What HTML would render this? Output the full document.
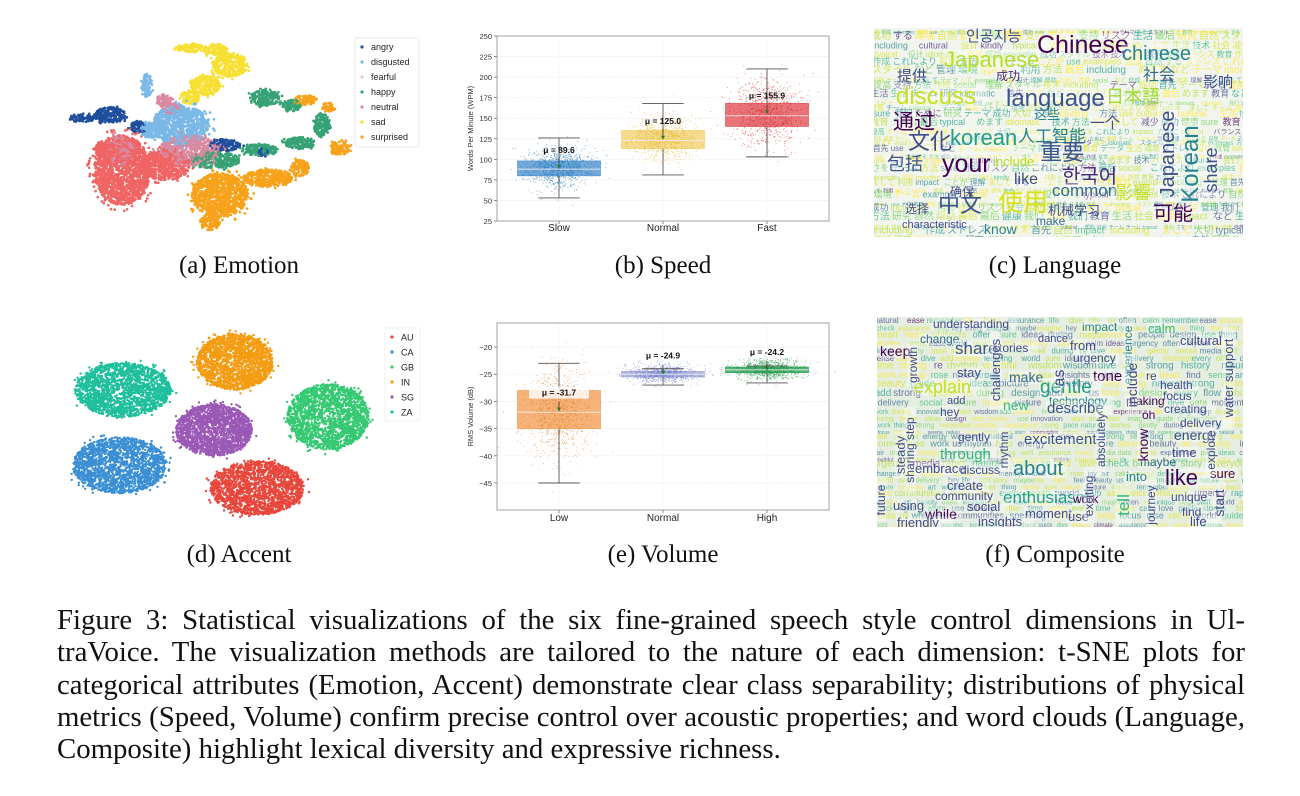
<!DOCTYPE html>
<html><head><meta charset="utf-8">
<style>
html,body{margin:0;padding:0;background:#fff;}
#root{position:relative;width:1300px;height:796px;overflow:hidden;background:#fff;}
svg text{font-family:"Liberation Sans","Noto Sans CJK JP",sans-serif;}
.cap{position:absolute;font-family:"Liberation Serif",serif;font-size:25px;color:#111;transform:translateX(-50%);white-space:nowrap;}
.para{position:absolute;left:57px;width:1188px;font-family:"Liberation Serif",serif;font-size:28.8px;color:#111;line-height:32.3px;}
.ln{display:block;text-align:justify;text-align-last:justify;white-space:nowrap;height:32.3px;}
.ln.last{text-align-last:left;}
</style></head>
<body>
<div id="root">
<svg id="fig" width="1300" height="796" viewBox="0 0 1300 796">
 <defs>
  <clipPath id="clipLang"><rect x="874" y="28" width="369" height="209"/></clipPath>
  <clipPath id="clipComp"><rect x="877" y="317" width="366" height="210"/></clipPath>
 </defs>
 <g id="emotion"></g>
 <g id="accent"></g>
 <g id="speed"></g>
 <g id="volume"></g>
 <g id="lang" clip-path="url(#clipLang)"></g>
 <g id="comp" clip-path="url(#clipComp)"></g>
</svg>
<div class="cap" style="left:239px;top:252px">(a) Emotion</div>
<div class="cap" style="left:663px;top:252px">(b) Speed</div>
<div class="cap" style="left:1055px;top:252px">(c) Language</div>
<div class="cap" style="left:239px;top:541px">(d) Accent</div>
<div class="cap" style="left:663px;top:541px">(e) Volume</div>
<div class="cap" style="left:1055px;top:541px">(f) Composite</div>
<div class="para" style="top:604px">
<span class="ln">Figure 3: Statistical visualizations of the six fine-grained speech style control dimensions in Ul-</span>
<span class="ln">traVoice. The visualization methods are tailored to the nature of each dimension: t-SNE plots for</span>
<span class="ln">categorical attributes (Emotion, Accent) demonstrate clear class separability; distributions of physical</span>
<span class="ln">metrics (Speed, Volume) confirm precise control over acoustic properties; and word clouds (Language,</span>
<span class="ln last">Composite) highlight lexical diversity and expressive richness.</span>
</div>
</div>
<script>
// ---------- data ----------
const emotionLabels = ['angry','disgusted','fearful','happy','neutral','sad','surprised'];
const emotionColors = ['#1f4e9c','#7ab8e6','#f06464','#36a275','#d98aa0','#f7e034','#f7a21b'];
const emotionLegendColors = ['#1f4e9c','#7ab8e6','#f8c8c0','#36a275','#d98aa0','#f7e034','#f7a21b'];
// [labelIndex, cx, cy, spreadX, spreadY] in t-SNE units
const emotionClusters = [
 [2,19.7,19.5,9.7,10.5],[2,34.5,21,8.6,4.5],[2,13.8,25.5,3.4,3],
 [6,53.4,12,9.7,6.6],[6,50,3.9,3.4,2.4],[6,70,17.1,8.6,2.7],[6,81,20.1,3.4,2.4],[6,94.8,26.1,3.4,2.1],[6,82.8,40.5,4.1,1.5],[6,90.7,38.4,2.1,1.5],
 [5,43.1,56.2,5.2,1.2],[5,51.7,55.6,4.1,1.8],[5,56.9,51.1,6.2,3.6],[5,48.3,45,5.2,3],[5,43.1,41.4,3.4,2.1],
 [1,28.3,45,1.7,3.6],[1,39.7,33,9.7,6],[1,29.3,31.5,3.4,2.4],
 [0,5.9,35.1,4.8,1.2],[0,15.5,36,5.5,2.4],[0,25.2,32.4,2.8,1.8],[0,55.2,27,5.2,1.8],[0,67.9,24.9,2.1,1.2],
 [3,69,41.1,5.2,2.4],[3,78.3,39,3.4,1.8],[3,88.6,33,2.8,3.6],[3,81,27.6,5.2,1.8],[3,67.2,25.5,6.2,1.8],[3,51.7,22.5,8.6,2.4],
 [4,43.1,25.5,10.3,4.5],[4,36.2,38.1,3.4,1.8],[4,19,25.5,4.1,4.5],[4,34.1,40.5,2.8,1.8]
];
const accentLabels = ['AU','CA','GB','IN','SG','ZA'];
const accentColors = ['#e8473c','#3a8fd4','#35c972','#f39c12','#9b59b6','#1fbf9c'];
// [labelIndex, cx, cy, spreadX, spreadY]
const accentClusters = [[0,56.3,10.6,13.4,7.7],[1,17,17.1,13.4,8],[2,76.6,30.9,11.7,9.4],[3,50,46.6,10.9,8],[4,44,27.1,10.9,7.4],[5,18,38.6,13.7,7.7]];

const speedCats = ['Slow','Normal','Fast'];
const speedQ1 = [80,113,140];
const speedMed = [88,123,153];
const speedQ3 = [98,135,168];
const speedLo = [53,81,103];
const speedHi = [126,168,210];
const speedMean = [89.6,125.0,155.9];
const speedSD = [12,14,20];
const speedTicks = [25,50,75,100,125,150,175,200,225,250];

const volCats = ['Low','Normal','High'];
const volQ1 = [-35,-25.5,-24.7];
const volMed = [-32,-25,-24.2];
const volQ3 = [-28,-24.5,-23.7];
const volLo = [-45,-27,-26.6];
const volHi = [-23,-24,-23.5];
const volMean = [-31.7,-24.9,-24.2];
const volSD = [4.2,0.8,0.9];
const volTicks = [-45,-40,-35,-30,-25,-20];

// ---------- helpers ----------
const NS='http://www.w3.org/2000/svg';
function mk(tag,attrs,parent){const e=document.createElementNS(NS,tag);for(const k in attrs)e.setAttribute(k,attrs[k]);if(parent)parent.appendChild(e);return e;}
function rng(seed){return function(){seed|=0;seed=seed+0x6D2B79F5|0;let t=Math.imul(seed^seed>>>15,1|seed);t=t+Math.imul(t^t>>>7,61|t)^t;return((t^t>>>14)>>>0)/4294967296;};}
function gauss(r){let u=0;while(!u)u=r();const v=r();return Math.sqrt(-2*Math.log(u))*Math.cos(2*Math.PI*v);}

// ---------- emotion ----------
(function(){
 const g=document.getElementById('emotion');const r=rng(11);
 const sx=v=>65+v*2.9, sy=v=>235-v*3.33;
 const pts=[];
 emotionClusters.forEach(c=>{
  const n=Math.max(35,Math.round(c[3]*c[4]*15));
  for(let i=0;i<n;i++){const a=r()*Math.PI*2,d=Math.sqrt(r())*(r()<0.9?1:1.25);
   pts.push([c[0],c[1]+Math.cos(a)*d*c[3],c[2]+Math.sin(a)*d*c[4]]);}
 });
 for(let i=pts.length-1;i>0;i--){const j=Math.floor(r()*(i+1));[pts[i],pts[j]]=[pts[j],pts[i]];}
 pts.forEach(p=>{const e=mk('circle',{cx:sx(p[1]).toFixed(1),cy:sy(p[2]).toFixed(1),r:1.35,fill:emotionColors[p[0]]},g);
  
  });
 const lg=mk('g',{},g);
 
 
 mk('rect',{x:355,y:38,width:64,height:109,fill:'#fff',stroke:'#e4e4e4','stroke-width':0.8,rx:2},lg);
 emotionLabels.forEach((l,i)=>{
  const y=47+i*15;
  mk('circle',{cx:362,cy:y,r:1.6,fill:emotionLegendColors[i]},lg);
  const t=mk('text',{x:371,y:y+3,'font-size':9,fill:'#222'},lg);t.textContent=l;
  
  
 });
})();

// ---------- accent ----------
(function(){
 const g=document.getElementById('accent');const r=rng(23);
 const sx=v=>60+v*3.5, sy=v=>525-v*3.5;
 accentClusters.forEach(c=>{
  for(let i=0;i<1900;i++){const a=r()*Math.PI*2,d=Math.pow(r(),0.45)*(r()<0.95?1:1.15);
   const e=mk('circle',{cx:sx(c[1]+Math.cos(a)*d*c[3]).toFixed(1),cy:sy(c[2]+Math.sin(a)*d*c[4]).toFixed(1),r:1.2,fill:accentColors[c[0]]},g);
   
   }
 });
 const lg=mk('g',{},g);
 
 
 mk('rect',{x:385,y:328,width:35,height:93,fill:'#fff',stroke:'#eee','stroke-width':0.8,rx:2},lg);
 accentLabels.forEach((l,i)=>{
  const y=337+i*15;
  mk('circle',{cx:392,cy:y,r:1.6,fill:accentColors[i]},lg);
  const t=mk('text',{x:401,y:y+3.5,'font-size':9,fill:'#222'},lg);t.textContent=l;
  
  
 });
})();

// ---------- box plots ----------
function boxPlot(gid,cats,q1,med,q3,lo,hi,mean,sd,ticks,sy,top,bottom,ylab,boxCols,ptCols,xlabY,seed,fmt){
 const g=document.getElementById(gid);const r=rng(seed);
 const L=497,R=829;const sx=i=>663+(i-1)*104;const bw=83;
 mk('rect',{x:L,y:top,width:R-L,height:bottom-top,fill:'#fff',stroke:'none'},g);
 ticks.forEach(t=>{const y=sy(t);
  mk('line',{x1:L,x2:R,y1:y,y2:y,stroke:'#ececec','stroke-width':0.7,'stroke-dasharray':'2,1'},g);
  mk('line',{x1:L-3,x2:L,y1:y,y2:y,stroke:'#555','stroke-width':0.7},g);
  const tx=mk('text',{x:L-5,y:y+3,'font-size':7.5,fill:'#333','text-anchor':'end'},g);tx.textContent=String(t).replace('-','\u2212');
  
  
 });
 cats.forEach((c,i)=>{mk('line',{x1:sx(i),x2:sx(i),y1:top,y2:bottom,stroke:'#efefef','stroke-width':0.7,'stroke-dasharray':'2,1'},g);});
 cats.forEach((c,i)=>{
  const x=sx(i);
  const bx=mk('rect',{x:x-bw/2,y:sy(q3[i]),width:bw,height:sy(q1[i])-sy(q3[i]),fill:boxCols[i],'fill-opacity':0.85,stroke:boxCols[i],'stroke-width':0.8},g);
  
  
  for(let k=0;k<900;k++){let v=mean[i]+gauss(r)*sd[i];
   const y=sy(v);if(y<top+2||y>bottom-2)continue;
   mk('circle',{cx:(x+gauss(r)*bw*0.2).toFixed(1),cy:y.toFixed(1),r:0.55,fill:ptCols[i],'fill-opacity':0.55},g);}
  mk('line',{x1:x-bw/2,x2:x+bw/2,y1:sy(med[i]),y2:sy(med[i]),stroke:'#eee','stroke-width':1.1,'stroke-opacity':0.8},g);
  mk('line',{x1:x,x2:x,y1:sy(hi[i]),y2:sy(q3[i]),stroke:'#555','stroke-width':0.9},g);
  mk('line',{x1:x,x2:x,y1:sy(q1[i]),y2:sy(lo[i]),stroke:'#555','stroke-width':0.9},g);
  mk('line',{x1:x-bw/4,x2:x+bw/4,y1:sy(hi[i]),y2:sy(hi[i]),stroke:'#555','stroke-width':0.9},g);
  mk('line',{x1:x-bw/4,x2:x+bw/4,y1:sy(lo[i]),y2:sy(lo[i]),stroke:'#555','stroke-width':0.9},g);
  mk('line',{x1:x,x2:x,y1:sy(mean[i])-9,y2:sy(mean[i]),stroke:'#333','stroke-width':0.8},g);
  mk('path',{d:`M${x-2},${sy(mean[i])-3} L${x+2},${sy(mean[i])-3} L${x},${sy(mean[i])+1} Z`,fill:'#2a7a2a'},g);
  const ly=sy(mean[i])-15;
  if(i===0&&gid==='volume')mk('rect',{x:x-30,y:ly-9,width:60,height:12,fill:'#fff','fill-opacity':0.8,rx:2},g);
  const lt=mk('text',{x:x,y:ly,'font-size':8.5,'font-weight':'bold',fill:'#111','text-anchor':'middle'},g);
  lt.textContent='\u03bc = '+fmt(mean[i]);
  
  
  mk('line',{x1:x,x2:x,y1:bottom,y2:bottom+3,stroke:'#555','stroke-width':0.7},g);
  const xt=mk('text',{x:x,y:xlabY,'font-size':10,fill:'#222','text-anchor':'middle'},g);xt.textContent=c;
  
  
 });
 mk('rect',{x:L,y:top,width:R-L,height:bottom-top,fill:'none',stroke:'#999','stroke-width':0.9},g);
 const yl=mk('text',{x:0,y:0,'font-size':7.5,fill:'#333','text-anchor':'middle',transform:`translate(473,${(top+bottom)/2}) rotate(-90)`},g);
 yl.textContent=ylab;
 
 
}
boxPlot('speed',speedCats,speedQ1,speedMed,speedQ3,speedLo,speedHi,speedMean,speedSD,speedTicks,
 v=>221-(v-25)*(185/225),36,221,'Words Per Minute (WPM)',['#5b9bd5','#f5d57a','#e35d63'],['#1f77b4','#e8b830','#d62728'],231,5,v=>v.toFixed(1));
boxPlot('volume',volCats,volQ1,volMed,volQ3,volLo,volHi,volMean,volSD,volTicks,
 v=>347+(-20-v)*5.44,323,510,'RMS Volume (dB)',['#f4a460','#a9aedb','#36a862'],['#e07b20','#6f7fd0','#1a9641'],521,9,v=>v.toFixed(1));

// ---------- word clouds ----------
const viridis=['#440154','#482878','#3e4989','#31688e','#26828e','#1f9e89','#35b779','#6ece58','#b5de2b','#d8e219','#fde725'];
function filler(gid,words,x0,y0,x1,y1,seed,bg){
 const g=document.getElementById(gid);const r=rng(seed);
 mk('rect',{x:x0,y:y0,width:x1-x0,height:y1-y0,fill:bg},g);
 let y=y0+6;
 while(y<y1+8){
  const fs=5+Math.floor(r()*6);let x=x0-5+r()*6;
  while(x<x1){const w=words[Math.floor(r()*words.length)];
   const col=viridis[Math.min(10,Math.floor(Math.pow(r(),0.55)*11))];
   const t=mk('text',{x:x.toFixed(1),y:y.toFixed(1),'font-size':fs,fill:col,'fill-opacity':0.75},g);t.textContent=w;
   
   
   let wl=0;for(const ch of w)wl+=ch.charCodeAt(0)>255?1:0.55;
   x+=wl*fs+2;}
  y+=fs*0.95;
 }
}
function bigWords(gid,list){
 const g=document.getElementById(gid);
 list.forEach(w=>{
  const a={x:w[1],y:w[2],'font-size':w[3],fill:w[4]};
  if(w[5])a.transform=`rotate(-90 ${w[1]} ${w[2]})`;
  if(w[5])a['text-anchor']='middle';
  mk('rect',{x:w[5]?w[1]-w[3]*0.8:w[1]-1,y:w[5]?w[2]-w[3]*w[0].length*0.3:w[2]-w[3]*0.8,width:w[5]?w[3]*0.95:w[3]*w[0].length*0.55,height:w[5]?w[3]*w[0].length*0.6:w[3]*0.95,fill:'#fff','fill-opacity':0.35},g);
  const t=mk('text',a,g);t.textContent=w[0];
  
  
 });
}
filler('lang',['cultural','です','提高','めます','方法','理解','して','sure','技术','成功','社会','idiomatic','use','social','ストレス','including','する','ことが','教育','利用','健康','スタイル','impact','examples','バランス','生活','帮助','自然','これにより','まして','typical','kindly','管理','データ','環境','大切','最后','研究','チーム','作成','リスク','テーマ','さを','减少','首先','ために','など','设计','支持','我们'],874,28,1243,237,7,'#f2f5ee');
bigWords('lang',[
 ['Chinese',1037,53,25,'#440154'],['Japanese',944,67,22,'#b5de2b'],['chinese',1122,60,20,'#26828e'],
 ['인공지능',966,41,15,'#3e4989'],['提供',897,81,15,'#3e4989'],['社会',1143,80,16,'#31688e'],['影响',1203,87,15,'#3e4989'],
 ['discuss',896,104,24,'#c8e020'],['language',1006,106,24,'#3b528b'],['日本語',1106,103,18,'#a0da39'],
 ['通过',893,129,21,'#440154'],['这些',1034,119,13,'#26828e'],['一个',1090,128,15,'#3e4989'],
 ['korean',950,145,22,'#1f9e89'],['文化',908,149,22,'#3e4989'],['人工智能',1018,142,17,'#26828e'],
 ['重要',1040,160,22,'#3b528b'],['your',942,172,25,'#440154'],['包括',887,170,18,'#3b528b'],
 ['include',993,166,13,'#b5de2b'],['한국어',1062,183,20,'#482878'],['like',1014,184,16,'#3e4989'],
 ['common',1052,196,17,'#31688e'],['中文',938,212,22,'#3b528b'],['使用',998,211,25,'#d8e219'],
 ['影響',1115,199,18,'#c8e020'],['可能',1153,220,20,'#440154'],['机械学习',1048,215,13,'#3e4989'],
 ['characteristic',902,228,11,'#3e4989'],['make',1036,225,12,'#31688e'],['know',984,234,14,'#26828e'],
 ['确保',950,196,12,'#3e4989'],['选择',905,213,12,'#3e4989'],['成功',996,80,12,'#482878'],
 ['Japanese',1174,154,20,'#3e4989',1],['Korean',1198,164,24,'#26828e',1],['share',1217,170,18,'#3b528b',1]
]);
filler('comp',['love','keep','wisdom','ease','pace','climate','natural','key','remember','rose','ideas','city','well','add','hey','imagine','gently','speaking','offer','check','curiosity','air','guide','using','whispers','youthful','assurance','friendly','dance','stories','often','design','strong','thing','rhythm','serene','feel','every','right','us','moment','history','changes','nature','use','world','beauty','data','heart','picture','life','dive','start','learning','innovation','media','sure','find','swift','focus','help','art','flow','story','clear','sense','cultural','calm','impact','during','communities','everyone','urgency','experience','re','rapid','health','quick','creating','delivery','energy','people','time','maybe','unique','also','work','insights','social','joy'],877,317,1243,527,13,'#e6eee2');
bigWords('comp',[
 ['understanding',933,328,12,'#3e4989'],['change',920,343,12,'#31688e'],['keep',880,356,14,'#440154'],
 ['share',955,354,17,'#3b528b'],['stories',993,352,12,'#3e4989'],['dance',1038,342,11,'#3e4989'],['impact',1082,331,12,'#26828e'],
 ['from',1070,350,13,'#3e4989'],['urgency',1073,362,12,'#3e4989'],['cultural',1180,345,13,'#3e4989'],['calm',1148,333,13,'#35b779'],
 ['stay',957,377,13,'#3e4989'],['make',1009,382,14,'#31688e'],['tone',1093,381,15,'#440154'],['re',1146,380,12,'#3e4989'],
 ['explain',914,393,18,'#c2df23'],['gentle',1040,393,19,'#1f9e89'],['health',1160,389,12,'#3e4989'],['technology',1049,405,12,'#26828e'],
 ['focus',1163,400,12,'#3e4989'],['add',947,404,11,'#3e4989'],['new',1003,410,14,'#35b779'],['describe',1047,413,15,'#3b528b'],
 ['making',1126,405,12,'#440154'],['creating',1164,413,12,'#3e4989'],['hey',940,416,12,'#3e4989'],['oh',1142,419,12,'#440154'],
 ['delivery',1180,427,12,'#3e4989'],['gently',958,441,12,'#3e4989'],['energy',1174,440,14,'#3e4989'],['excitement',1024,444,15,'#3b528b'],
 ['through',940,459,15,'#35b779'],['time',1172,457,13,'#3e4989'],['about',1013,475,20,'#26828e'],['maybe',1140,466,12,'#31688e'],
 ['embrace',915,473,13,'#3e4989'],['discuss',960,474,12,'#3e4989'],['create',947,490,13,'#3e4989'],['into',1126,481,13,'#26828e'],
 ['like',1165,485,22,'#440154'],['sure',1210,478,13,'#440154'],['community',935,500,12,'#3e4989'],['unique',1171,501,12,'#3e4989'],
 ['using',893,510,13,'#3e4989'],['while',925,519,14,'#440154'],['enthusiasm',1003,503,17,'#1f9e89'],['work',1073,503,12,'#440154'],
 ['social',967,511,13,'#3e4989'],['moment',1025,518,13,'#3e4989'],['find',1182,516,12,'#3e4989'],['friendly',897,527,13,'#3e4989'],
 ['insights',978,526,13,'#3e4989'],['use',1068,521,13,'#3e4989'],['life',1190,526,13,'#3e4989'],
 ['challenges',1000,370,13,'#3e4989',1],['as',1064,378,16,'#3e4989',1],['growth',917,365,12,'#3e4989',1],['steady',905,455,13,'#3e4989',1],
 ['experience',1132,355,12,'#26828e',1],['include',1137,385,14,'#3e4989',1],['water support',1233,378,13,'#3e4989',1],
 ['know',1148,445,14,'#440154',1],['absolutely',1105,440,12,'#3e4989',1],['rhythm',1008,450,12,'#3e4989',1],['sharing step',914,450,12,'#3e4989',1],
 ['tell',1129,505,17,'#35b779',1],['journey',1155,505,12,'#3e4989',1],['start',1224,503,14,'#3e4989',1],['exciting',1093,496,12,'#3e4989',1],
 ['future',885,500,12,'#3e4989',1],['explore',1215,450,12,'#3e4989',1]
]);
</script>
</body></html>
